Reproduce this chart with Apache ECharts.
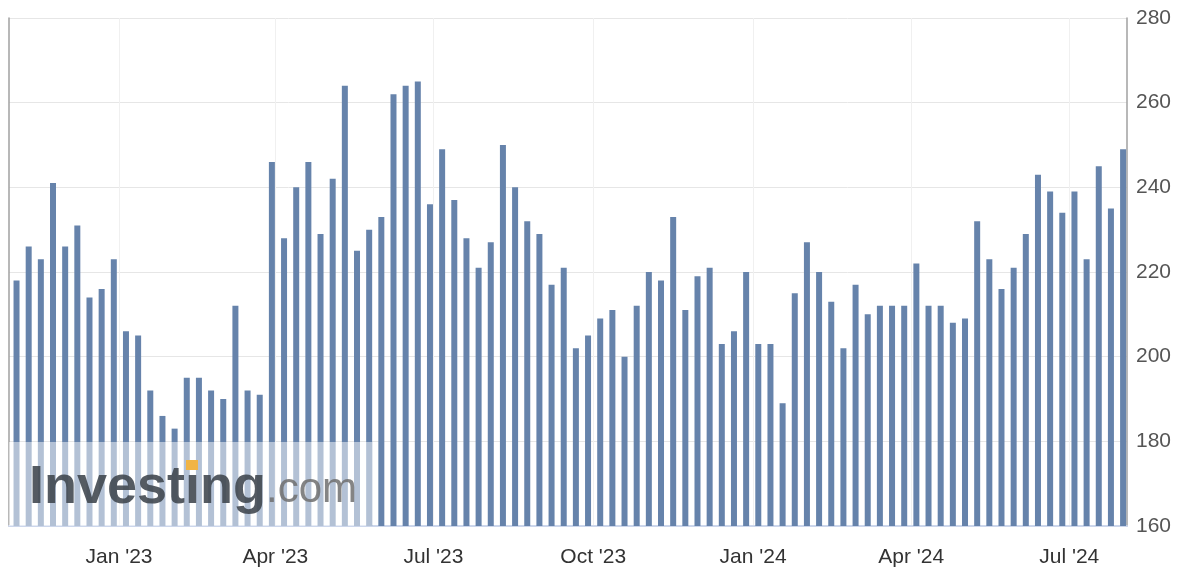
<!DOCTYPE html>
<html>
<head>
<meta charset="utf-8">
<style>
html,body{margin:0;padding:0;background:#fff;}
#chart{width:1186px;height:584px;}
</style>
<script src="https://cdn.jsdelivr.net/npm/echarts@6/dist/echarts.min.js"></script>
</head>
<body>
<div id="chart"></div>
<script>
// Weekly release dates (Thursdays)
const dates = [
  '2022-11-03','2022-11-10','2022-11-17','2022-11-24','2022-12-01','2022-12-08','2022-12-15','2022-12-22','2022-12-29',
  '2023-01-05','2023-01-12','2023-01-19','2023-01-26','2023-02-02','2023-02-09','2023-02-16','2023-02-23',
  '2023-03-02','2023-03-09','2023-03-16','2023-03-23','2023-03-30','2023-04-06','2023-04-13','2023-04-20','2023-04-27',
  '2023-05-04','2023-05-11','2023-05-18','2023-05-25','2023-06-01','2023-06-08','2023-06-15','2023-06-22','2023-06-29',
  '2023-07-06','2023-07-13','2023-07-20','2023-07-27','2023-08-03','2023-08-10','2023-08-17','2023-08-24','2023-08-31',
  '2023-09-07','2023-09-14','2023-09-21','2023-09-28','2023-10-05','2023-10-12','2023-10-19','2023-10-26',
  '2023-11-02','2023-11-09','2023-11-16','2023-11-23','2023-11-30','2023-12-07','2023-12-14','2023-12-21','2023-12-28',
  '2024-01-04','2024-01-11','2024-01-18','2024-01-25','2024-02-01','2024-02-08','2024-02-15','2024-02-22','2024-02-29',
  '2024-03-07','2024-03-14','2024-03-21','2024-03-28','2024-04-04','2024-04-11','2024-04-18','2024-04-25',
  '2024-05-02','2024-05-09','2024-05-16','2024-05-23','2024-05-30','2024-06-06','2024-06-13','2024-06-20','2024-06-27',
  '2024-07-04','2024-07-11','2024-07-18','2024-07-25','2024-08-01'
];
// Values (thousands)
const values = [
  218,226,223,241,226,231,214,216,223,206,205,192,186,183,195,195,
  192,190,212,192,191,246,228,240,246,229,242,264,225,230,233,
  262,264,265,236,249,237,228,221,227,250,240,232,229,217,221,202,
  205,209,211,200,212,220,218,233,211,219,221,203,206,220,203,203,
  189,215,227,220,213,202,217,210,212,212,212,222,212,212,208,
  209,232,223,216,221,229,243,239,234,239,223,245,235,249
];
// X tick positions / labels (quarter starts)
const tickDates = ['2023-01-01','2023-04-01','2023-07-01','2023-10-01','2024-01-01','2024-04-01','2024-07-01'];
const tickLabels = ["Jan '23","Apr '23","Jul '23","Oct '23","Jan '24","Apr '24","Jul '24"];
// Y ticks
const yMin = 160, yMax = 280, yStep = 20;

function toTs(s){ const p = s.split('-').map(Number); return Date.UTC(p[0], p[1]-1, p[2]); }
const tickTs = tickDates.map(toTs);
const labelMap = {};
tickTs.forEach((t,i)=>{ labelMap[t] = tickLabels[i]; });
const seriesData = dates.map((d,i)=>[toTs(d), values[i]]);

const FONT = '"Liberation Sans", Arial, Helvetica, sans-serif';
const chart = echarts.init(document.getElementById('chart'), null, {renderer:'canvas'});
chart.setOption({
  animation: false,
  backgroundColor: '#ffffff',
  grid: {left: 9, right: 59, top: 18, bottom: 58, containLabel: false},
  xAxis: {
    type: 'value',
    min: Date.UTC(2022, 9, 29, 16),
    max: Date.UTC(2024, 7, 3, 6),
    axisLine: {show: true, lineStyle: {color: '#ccd6eb', width: 2}},
    axisTick: {show: false, customValues: tickTs},
    axisLabel: {
      customValues: tickTs,
      formatter: function(v){ return labelMap[v] || ''; },
      color: '#333333', fontSize: 21, fontFamily: FONT, margin: 21
    },
    splitLine: {show: true, lineStyle: {color: '#f0f0f0', width: 1}}
  },
  yAxis: [{
    type: 'value',
    position: 'right',
    min: yMin, max: yMax, interval: yStep,
    axisLine: {show: true, lineStyle: {color: '#a0a0a0', width: 1.5}},
    axisTick: {show: false},
    axisLabel: {color: '#555555', fontSize: 21, fontFamily: FONT, margin: 9},
    splitLine: {show: true, lineStyle: {color: '#e6e6e6', width: 1}}
  },{
    type: 'value',
    position: 'left',
    min: yMin, max: yMax, interval: yStep,
    axisLine: {show: true, lineStyle: {color: '#a0a0a0', width: 1.5}},
    axisTick: {show: false},
    axisLabel: {show: false},
    splitLine: {show: false}
  }],
  series: [{
    type: 'bar',
    yAxisIndex: 0,
    data: seriesData,
    barWidth: 6,
    itemStyle: {color: '#6683ab'},
    z: 2
  }],
  graphic: [
    {type: 'rect', z: 100, shape: {x: 9, y: 442, width: 363, height: 84}, style: {fill: 'rgba(255,255,255,0.5)'}},
    {type: 'text', z: 101, style: {text: 'Investing', x: 29, y: 488, font: 'bold 54px ' + FONT, fill: 'rgba(62,68,76,0.88)', verticalAlign: 'middle', align: 'left'}},
    {type: 'text', z: 101, style: {text: '.com', x: 266, y: 490, font: '42px ' + FONT, fill: 'rgba(110,110,110,0.85)', verticalAlign: 'middle', align: 'left'}},
    {type: 'rect', z: 102, shape: {x: 186, y: 460, width: 12, height: 10}, style: {fill: '#f0b445'}}
  ]
});
</script>
</body>
</html>
